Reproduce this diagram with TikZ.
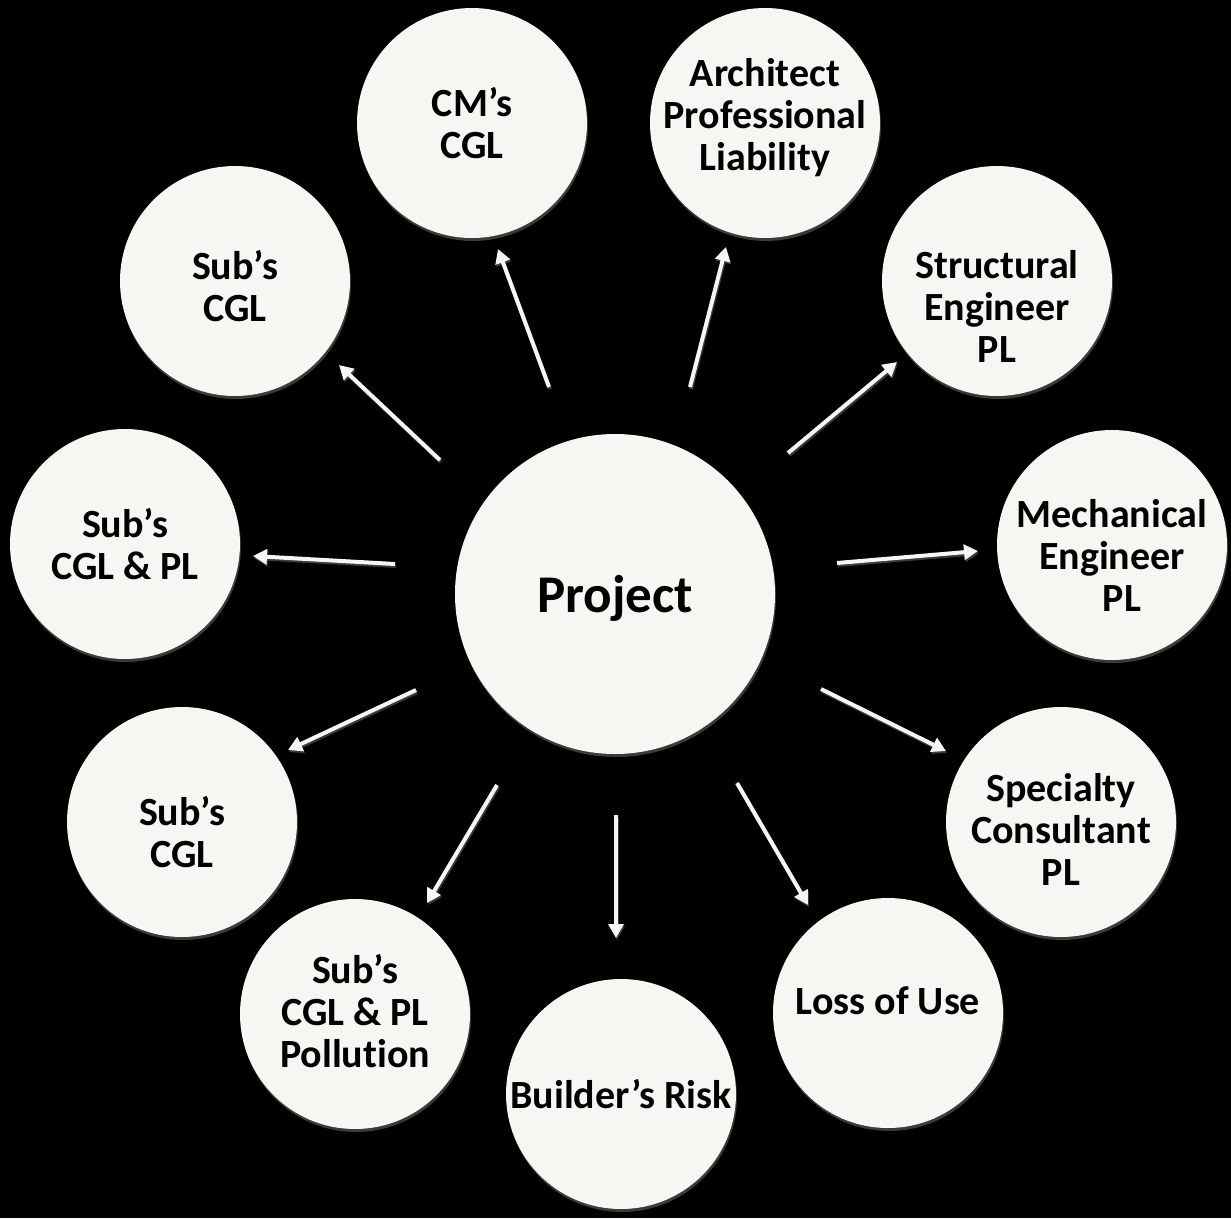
\documentclass[tikz,border=0pt]{standalone}
\usepackage{fontspec}
\setmainfont{Carlito}[Ligatures=NoCommon]
\usetikzlibrary{arrows.meta,shadows}
\definecolor{discfill}{HTML}{F7F6F2}
\definecolor{shade}{HTML}{3A3A3A}
\begin{document}
\begin{tikzpicture}[x=1pt,y=-1pt,
  disc/.style={circle, fill=discfill, minimum size=230pt, inner sep=0pt,
    drop shadow={shadow xshift=1pt, shadow yshift=-3pt, fill=shade, opacity=1}},
  bigdisc/.style={disc, minimum size=320pt},
  txt/.style={font=\bfseries\fontsize{40}{42}\selectfont, align=center, text=black},
  bigtxt/.style={font=\bfseries\fontsize{53}{60}\selectfont, text=black},
  arrsh/.style={draw=shade, line width=4pt, -{Triangle[width=15pt,length=14pt]}},
  arr/.style={draw=discfill, line width=4pt, -{Triangle[width=15pt,length=14pt]}}]
\fill[black] (0,0) rectangle (1231,1218);
\useasboundingbox (0,0) rectangle (1231,1218);

% circles
\node[bigdisc, label={[bigtxt,yshift=-4pt]center:Project}] (p) at (615,594) {};
\node[disc, label={[txt,yshift=0pt]center:{CM’s\\CGL}}] (c1) at (472,123) {};
\node[disc, label={[txt,yshift=5pt]center:{Architect\\Professional\\Liability}}] (c2) at (765,123) {};
\node[disc, label={[txt,yshift=-25pt]center:{Structural\\Engineer\\PL}}] (c3) at (997,281) {};
\node[disc, label={[txt,yshift=-10pt]center:{Mechanical\\Engineer\\\hspace*{20pt}PL}}] (c4) at (1112,545) {};
\node[disc, label={[txt,yshift=-7pt]center:{Specialty\\Consultant\\PL}}] (c5) at (1061,822) {};
\node[disc, label={[txt,yshift=12pt]center:{Loss of Use}}] (c6) at (888,1013) {};
\node[disc, label={[txt,yshift=0pt]center:{Builder’s Risk}}] (c7) at (621,1094) {};
\node[disc, label={[txt,yshift=3pt]center:{Sub’s\\CGL \& PL\\Pollution}}] (c8) at (355,1014) {};
\node[disc, label={[txt,yshift=-10pt]center:{Sub’s\\CGL}}] (c9) at (182,822) {};
\node[disc, label={[txt,yshift=0pt]center:{Sub’s\\CGL \& PL}}] (c10) at (125,544) {};
\node[disc, label={[txt,yshift=-5pt]center:{Sub’s\\CGL}}] (c11) at (235,281) {};

% arrow end points
\coordinate (s1) at (549,387);  \coordinate (e1) at (498,249);
\coordinate (s2) at (690,387);  \coordinate (e2) at (726,247);
\coordinate (s3) at (788,453);  \coordinate (e3) at (897,362);
\coordinate (s4) at (837,563);  \coordinate (e4) at (978,551);
\coordinate (s5) at (821,689);  \coordinate (e5) at (946,751);
\coordinate (s6) at (737,783);  \coordinate (e6) at (808,905);
\coordinate (s7) at (616,815);  \coordinate (e7) at (616,938);
\coordinate (s8) at (497,785);  \coordinate (e8) at (427,903);
\coordinate (s9) at (416,690);  \coordinate (e9) at (288,750);
\coordinate (s10) at (395,564); \coordinate (e10) at (253,556);
\coordinate (s11) at (440,460); \coordinate (e11) at (339,365);

\foreach \i in {1,...,11} {
  \draw[arrsh] ([shift={(1,2)}]s\i) -- ([shift={(1,2)}]e\i);
  \draw[arr] (s\i) -- (e\i);
}
\end{tikzpicture}
\end{document}
